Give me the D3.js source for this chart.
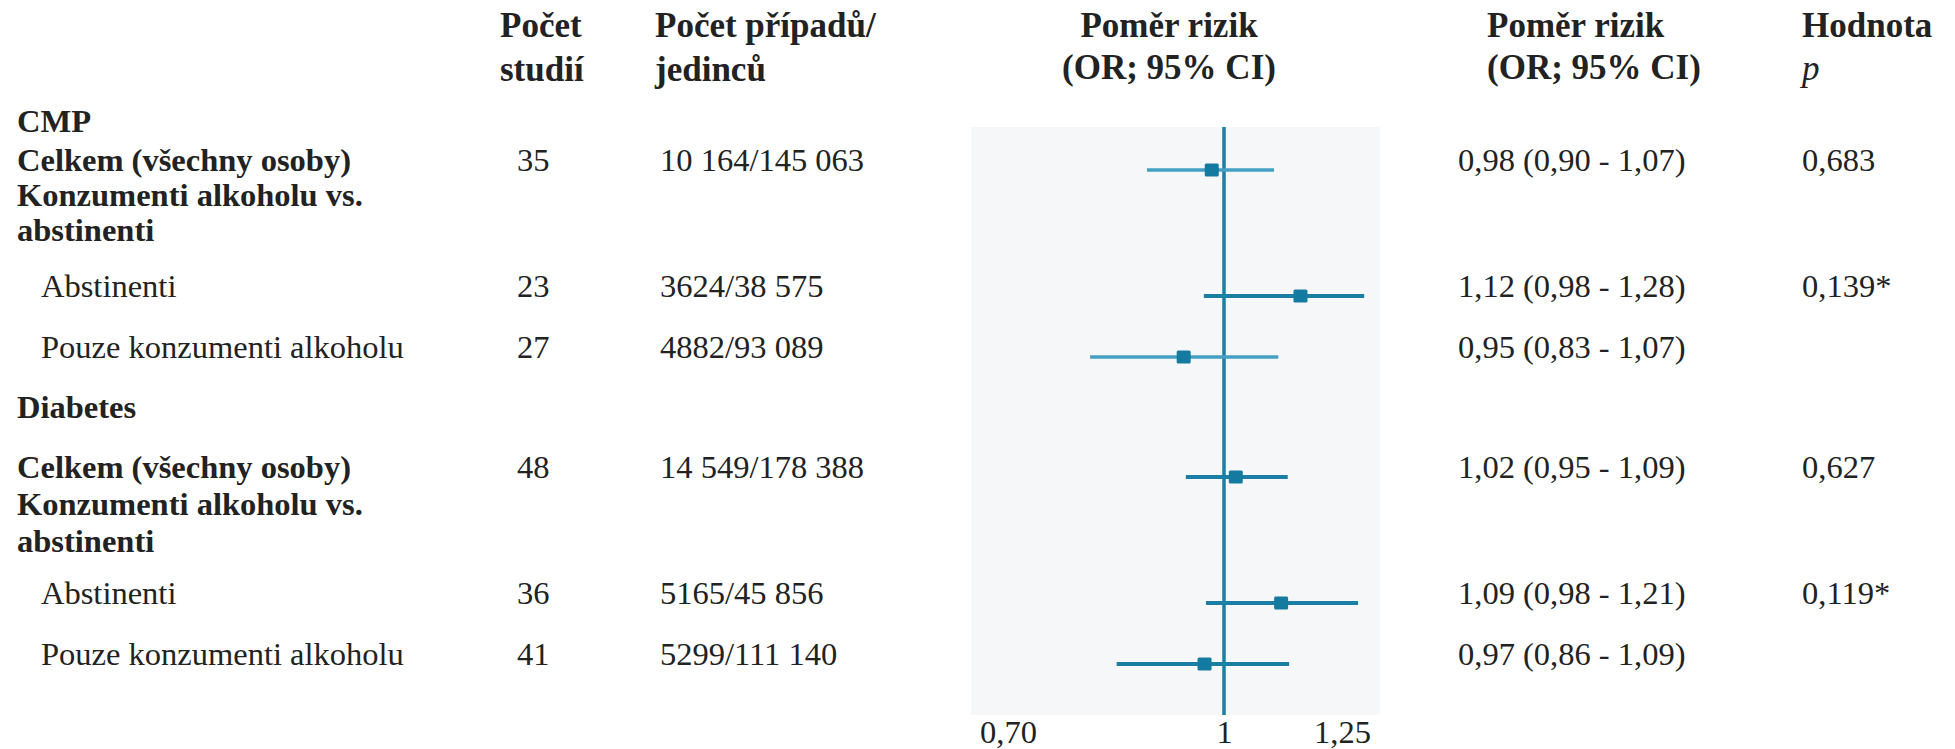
<!DOCTYPE html>
<html lang="cs">
<head>
<meta charset="utf-8">
<title>Poměr rizik – CMP a diabetes</title>
<script src="https://cdn.jsdelivr.net/npm/d3@7"></script>
<style>
    body { margin: 0; background: #ffffff; }
    #chart { width: 1955px; height: 749px; }
    svg text { font-family: "Liberation Serif", "DejaVu Serif", serif; fill: #222222; }
</style>
</head>
<body>
<div id="chart"></div>
<script>
// --- Data ---

// Text lines of the left column, top to bottom
const labelLines = [
    "CMP",
    "Celkem (všechny osoby)",
    "Konzumenti alkoholu vs.",
    "abstinenti",
    "Abstinenti",
    "Pouze konzumenti alkoholu",
    "Diabetes",
    "Celkem (všechny osoby)",
    "Konzumenti alkoholu vs.",
    "abstinenti",
    "Abstinenti",
    "Pouze konzumenti alkoholu"
];

// Which label line each data row belongs to
const rowLine = [1, 4, 5, 7, 10, 11];

// Number of studies
const studyCounts = ["35", "23", "27", "48", "36", "41"];

// Number of cases / persons
const caseCounts = ["10 164/145 063", "3624/38 575", "4882/93 089", "14 549/178 388", "5165/45 856", "5299/111 140"];

// Odds ratio text
const orTexts = ["0,98 (0,90 - 1,07)", "1,12 (0,98 - 1,28)", "0,95 (0,83 - 1,07)", "1,02 (0,95 - 1,09)", "1,09 (0,98 - 1,21)", "0,97 (0,86 - 1,09)"];

// p values
const pValues = ["0,683", "0,139*", "", "0,627", "0,119*", ""];

// Plotted odds ratio and interval ends, as they sit on the drawn axis
const orPoint = [0.983, 1.162, 0.944, 1.025, 1.121, 0.973];
const ciLow = [0.893, 0.972, 0.814, 0.947, 0.975, 0.851];
const ciHigh = [1.106, 1.297, 1.115, 1.135, 1.284, 1.138];

// Axis ticks
const tickValues = [0.70, 1, 1.25];
const tickLabels = ["0,70", "1", "1,25"];

// --- Layout and styles ---
const width = 1955;
const height = 749;
const serif = "'Liberation Serif', 'DejaVu Serif', serif";
const lineY = [132, 171, 206, 241, 297, 358, 418, 478, 515, 552, 604, 665];
const lineBold = [true, true, true, true, false, false, true, true, true, true, false, false];
const lineIndent = [false, false, false, false, true, true, false, false, false, false, true, true];
const rowDark = [false, true, false, true, true, true];
const darkColor = "#1a7ea5";
const lightColor = "#449fc2";
const panel = { left: 971, right: 1380, top: 127, bottom: 715 };

// We create the SVG
const svg = d3.select("#chart").append("svg")
    .attr("width", width)
    .attr("height", height)
    .attr("font-family", serif);

// We create the X scale which follows the three labelled ticks
const xScale = d3.scaleLinear()
    .domain(tickValues)
    .range([1008, 1224, 1342]);

// We draw the grey panel behind the forest plot
svg.append("rect")
    .attr("x", panel.left)
    .attr("y", panel.top)
    .attr("width", panel.right - panel.left)
    .attr("height", panel.bottom - panel.top)
    .attr("fill", "#f5f7f8");

// Column headers
const headers = svg.append("g").attr("font-weight", "bold").attr("font-size", 35);
headers.append("text").attr("x", 500).attr("y", 37).text("Počet");
headers.append("text").attr("x", 500).attr("y", 81).text("studií");
headers.append("text").attr("x", 655).attr("y", 37).text("Počet případů/");
headers.append("text").attr("x", 655).attr("y", 81).text("jedinců");
headers.append("text").attr("x", 1169).attr("y", 37).attr("text-anchor", "middle").text("Poměr rizik");
headers.append("text").attr("x", 1169).attr("y", 79).attr("text-anchor", "middle").text("(OR; 95% CI)");
headers.append("text").attr("x", 1487).attr("y", 37).text("Poměr rizik");
headers.append("text").attr("x", 1487).attr("y", 79).text("(OR; 95% CI)");
headers.append("text").attr("x", 1802).attr("y", 37).text("Hodnota");
headers.append("text").attr("x", 1802).attr("y", 80)
    .attr("font-weight", "normal").attr("font-style", "italic").text("p");

// Left column labels
svg.append("g").selectAll("text")
    .data(labelLines)
    .enter()
    .append("text")
    .attr("x", (d, i) => lineIndent[i] ? 41 : 17)
    .attr("y", (d, i) => lineY[i])
    .attr("font-size", 32.5)
    .attr("font-weight", (d, i) => lineBold[i] ? "bold" : "normal")
    .text(d => d);

// We build the row table from the arrays
const rows = studyCounts.map((d, i) => ({
    y: lineY[rowLine[i]],
    studies: d,
    cases: caseCounts[i],
    orText: orTexts[i],
    p: pValues[i],
    or: orPoint[i],
    lo: ciLow[i],
    hi: ciHigh[i],
    dark: rowDark[i]
}));

// Table columns with numbers
const cols = [
    { x: 517, key: "studies" },
    { x: 660, key: "cases" },
    { x: 1458, key: "orText" },
    { x: 1802, key: "p" }
];
cols.forEach(c => {
    svg.append("g").selectAll("text")
        .data(rows)
        .enter()
        .append("text")
        .attr("x", c.x)
        .attr("y", d => d.y)
        .attr("font-size", 32.5)
        .text(d => d[c.key]);
});

// Vertical line at OR = 1
svg.append("line")
    .attr("x1", xScale(1))
    .attr("x2", xScale(1))
    .attr("y1", panel.top)
    .attr("y2", panel.bottom)
    .attr("stroke", darkColor)
    .attr("stroke-width", 3.5);

// Confidence interval lines
svg.append("g").selectAll("line")
    .data(rows)
    .enter()
    .append("line")
    .attr("x1", d => xScale(d.lo))
    .attr("x2", d => xScale(d.hi))
    .attr("y1", d => d.y - 1)
    .attr("y2", d => d.y - 1)
    .attr("stroke", d => d.dark ? darkColor : lightColor)
    .attr("stroke-width", d => d.dark ? 4 : 3.5);

// Point estimate squares
svg.append("g").selectAll("rect")
    .data(rows)
    .enter()
    .append("rect")
    .attr("x", d => xScale(d.or) - 7)
    .attr("y", d => d.y - 7.5)
    .attr("width", 14)
    .attr("height", 13)
    .attr("rx", 1.5)
    .attr("fill", "#157aa0");

// X axis with the three labels
const axis = svg.append("g")
    .attr("transform", `translate(0,${panel.bottom})`)
    .call(d3.axisBottom(xScale)
        .tickValues(tickValues)
        .tickFormat((d, i) => tickLabels[i])
        .tickSize(0)
        .tickPadding(5));
axis.select(".domain").remove();
axis.attr("font-family", serif).attr("font-size", 32.5);
axis.selectAll("text")
    .attr("fill", "#222222");
</script>
</body>
</html>
